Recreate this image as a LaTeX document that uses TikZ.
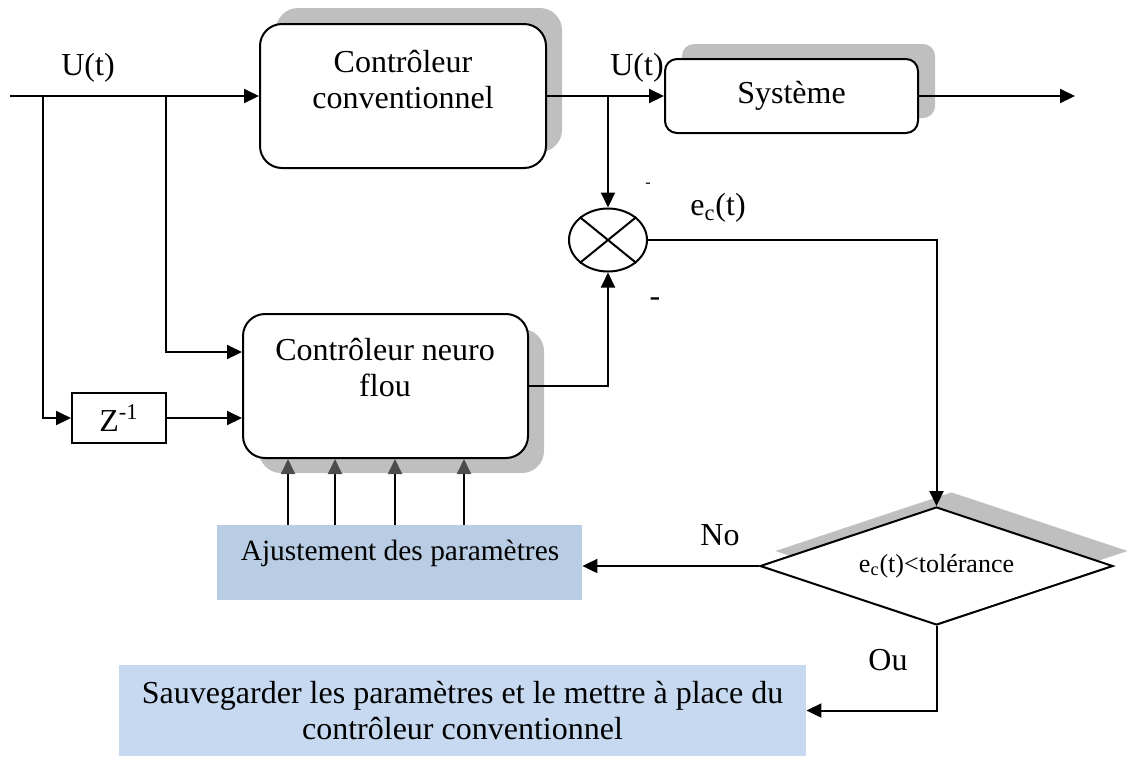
\documentclass[tikz,border=0pt]{standalone}
\usepackage{fontspec}
\setmainfont{Liberation Serif}
\usetikzlibrary{arrows.meta,shapes.geometric,shadows}
\definecolor{shadowgray}{RGB}{191,191,191}
\definecolor{adjblue}{RGB}{184,204,228}
\definecolor{saveblue}{RGB}{198,217,241}

\begin{document}
\begin{tikzpicture}[x=0.5pt,y=-0.5pt,
  >={Triangle[length=7.5pt,width=7pt]},
  every node/.style={font=\fontsize{16}{18}\selectfont},
  thick/.style={line width=1pt},
  box/.style={draw,thick,fill=white}]
\useasboundingbox (0,0) rectangle (1127,757);

% blocks
\node[box,rounded corners=11pt,minimum width=143pt,minimum height=72pt,
  drop shadow={shadow xshift=8pt,shadow yshift=8pt,fill=shadowgray,opacity=1}] (conv) at (403,96) {};
\node[align=center] (conv-txt) at (403,80) {Contrôleur\\conventionnel};
\node[box,rounded corners=6pt,minimum width=126.5pt,minimum height=37pt,
  drop shadow={shadow xshift=8.5pt,shadow yshift=7.5pt,fill=shadowgray,opacity=1}] (sys) at (791.5,96) {Système};
\node[box,rounded corners=11pt,minimum width=142.5pt,minimum height=72pt,
  drop shadow={shadow xshift=8pt,shadow yshift=-7.5pt,fill=shadowgray,opacity=1}] (neuro) at (385.5,386) {};
\node[align=center] (neuro-txt) at (385,368) {Contrôleur neuro\\flou};
\node[box,minimum width=47pt,minimum height=25pt] (zinv) at (119,418) {Z\textsuperscript{-1}};
\node[draw,thick,ellipse,inner sep=0pt,minimum width=39pt,minimum height=31.5pt] (sum) at (608,240) {};
\path[draw,thick] (sum.north west) -- (sum.south east) (sum.north east) -- (sum.south west);
\node[box,diamond,aspect=3,inner sep=0pt,minimum width=176.5pt,minimum height=59pt,
  font=\fontsize{13}{15}\selectfont,
  drop shadow={shadow xshift=7.5pt,shadow yshift=7.5pt,fill=shadowgray,opacity=1}] (test) at (936.5,566) {e\textsubscript{c}(t)<tolérance};
\node[fill=adjblue,minimum width=182.5pt,minimum height=37.5pt] (adj) at (399.5,562.5) {};
\node[font=\fontsize{14.7}{17}\selectfont] (adj-txt) at (400,553) {Ajustement des paramètres};
\node[fill=saveblue,minimum width=343.5pt,minimum height=45.5pt,align=center] (save) at (462.5,710.5)
  {Sauvegarder les paramètres et le mettre à place du\\contrôleur conventionnel};

% branch points
\coordinate (in) at (10,96);
\coordinate (out) at (1075,96);
\coordinate (b1) at (43,96);
\coordinate (b2) at (166,96);
\coordinate (b3) at (608,96);

% signals
\path[draw,thick,->] (in) -- (conv.west);
\path[draw,thick,->] (b1) |- (zinv.west);
\path[draw,thick,->] (b2) |- ([yshift=17pt]neuro.west);
\path[draw,thick,->] (zinv.east) -- (zinv.east -| neuro.west);
\path[draw,thick,->] (conv.east) -- (sys.west);
\path[draw,thick,->] (sys.east) -- (out);
\path[draw,thick,->] (b3) -- (sum.north);
\path[draw,thick,->] (neuro.east) -| (sum.south);
\path[draw,thick,->] (sum.east) -| (test.north);
\path[draw,thick,->] (test.west) -- (test.west -| adj.east);
\path[draw,thick,->] (test.south) |- (save.east);
\foreach \x in {288,335,395,464}
  \path[draw,thick,-{Triangle[length=7.5pt,width=7pt,color=black!70]}] (adj.north -| \x,0) -- (neuro.south -| \x,0);

% labels
\node (u1) at (88,68) {U(t)};
\node (u2) at (637,68) {U(t)};
\node (ec) at (718,208) {e\textsubscript{c}(t)};
\node[font=\fontsize{8}{9}\selectfont] (m1) at (648,185) {-};
\node (m2) at (655,302) {-};
\node (no) at (720,535) {No};
\node (ou) at (888,660) {Ou};
\end{tikzpicture}
\end{document}
